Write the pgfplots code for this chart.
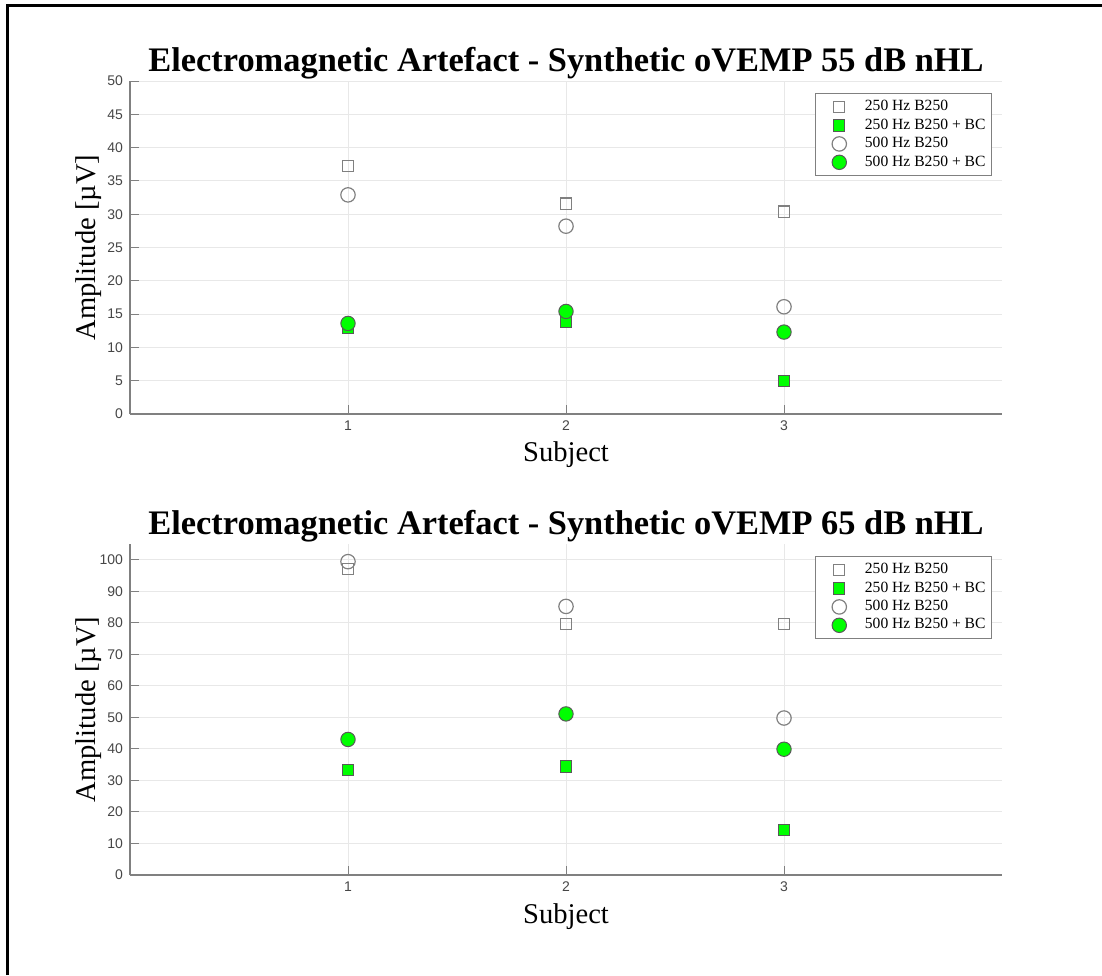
\documentclass[border=0pt]{standalone}
\usepackage{fontspec}
\setmainfont{Liberation Serif}
\newfontfamily\helv{Liberation Sans}
\usepackage{pgfplots}
\pgfplotsset{compat=1.18}
\definecolor{axgray}{RGB}{128,128,128}
\definecolor{gridgray}{RGB}{232,232,232}
\definecolor{tickgray}{RGB}{70,70,70}
\definecolor{mgreen}{RGB}{0,255,0}
\pgfplotsset{
  every axis title shift=0pt,
  myaxis/.style={
    scale only axis,
    width=436pt,
    xmin=0, xmax=4,
    xtick={1,2,3},
    axis x line*=bottom,
    axis y line*=left,
    axis line style={axgray, -, line width=0.6pt},
    tick style={axgray, line width=0.5pt},
    tick align=inside,
    major tick length=4.5pt,
    grid=major,
    major grid style={gridgray, line width=0.5pt},
    /pgf/number format/assume math mode=true,
    tick label style={font=\helv\fontsize{7}{8}\selectfont, text=tickgray},
    title style={at={(0.5,1)}, anchor=base, yshift=4.5pt, font=\bfseries\fontsize{17.2}{20}\selectfont},
    xlabel style={at={(axis description cs:0.5,0)}, anchor=base, yshift=-24pt, font=\fontsize{14.3}{16}\selectfont},
    ylabel style={at={(axis description cs:-0.048,0.5)}, anchor=center, font=\fontsize{14.3}{16}\selectfont},
    legend style={at={(1,1)}, anchor=north east, xshift=-5pt, yshift=-6pt,
      draw=axgray, line width=0.5pt, font=\fontsize{7.8}{10}\selectfont,
      row sep=-1.5pt, inner xsep=1pt, inner ysep=1.5pt,
      legend cell align=left},
    legend image code/.code={\path[draw=none] (0,0) -- (0.765cm,0); \draw[#1] plot coordinates {(0.385cm,0cm)};},
  },
  osq/.style={only marks, mark=square, mark size=2.8pt, mark options={draw=axgray, fill=white, line width=0.6pt}},
  gsq/.style={only marks, mark=square*, mark size=2.8pt, mark options={draw=black!65, fill=mgreen, line width=0.5pt}},
  ocirc/.style={only marks, mark=o, mark size=3.6pt, mark options={draw=axgray, line width=0.6pt}},
  gcirc/.style={only marks, mark=*, mark size=3.6pt, mark options={draw=black!65, fill=mgreen, line width=0.5pt}},
}
\begin{document}
\begin{tikzpicture}
\useasboundingbox (0,0) rectangle (551pt,487.5pt);
\draw[black, line width=1.5pt] (3.5pt,0) -- (3.5pt,484.5pt) -- (551pt,484.5pt);

\begin{axis}[myaxis,
  at={(65pt,280.5pt)}, anchor=south west,
  height=166.5pt,
  ymin=0, ymax=50, ytick={0,5,...,50},
  title={Electromagnetic Artefact - Synthetic oVEMP 55 dB nHL},
  xlabel={Subject}, ylabel={Amplitude [µV]}]
\addplot[osq] coordinates {(1,37.2) (2,31.6) (3,30.4)};
\addlegendentry{250 Hz B250}
\addplot[gsq] coordinates {(1,13.0) (2,13.8) (3,5.0)};
\addlegendentry{250 Hz B250 + BC}
\addplot[ocirc] coordinates {(1,32.9) (2,28.2) (3,16.1)};
\addlegendentry{500 Hz B250}
\addplot[gcirc] coordinates {(1,13.6) (2,15.4) (3,12.3)};
\addlegendentry{500 Hz B250 + BC}
\end{axis}

\begin{axis}[myaxis,
  at={(65pt,50pt)}, anchor=south west,
  height=165.5pt,
  ymin=0, ymax=105, ytick={0,10,...,100},
  title={Electromagnetic Artefact - Synthetic oVEMP 65 dB nHL},
  xlabel={Subject}, ylabel={Amplitude [µV]}]
\addplot[osq] coordinates {(1,97.0) (2,79.6) (3,79.7)};
\addlegendentry{250 Hz B250}
\addplot[gsq] coordinates {(1,33.3) (2,34.4) (3,14.4)};
\addlegendentry{250 Hz B250 + BC}
\addplot[ocirc] coordinates {(1,99.4) (2,85.2) (3,49.8)};
\addlegendentry{500 Hz B250}
\addplot[gcirc] coordinates {(1,43.0) (2,51.1) (3,39.9)};
\addlegendentry{500 Hz B250 + BC}
\end{axis}
\end{tikzpicture}
\end{document}
